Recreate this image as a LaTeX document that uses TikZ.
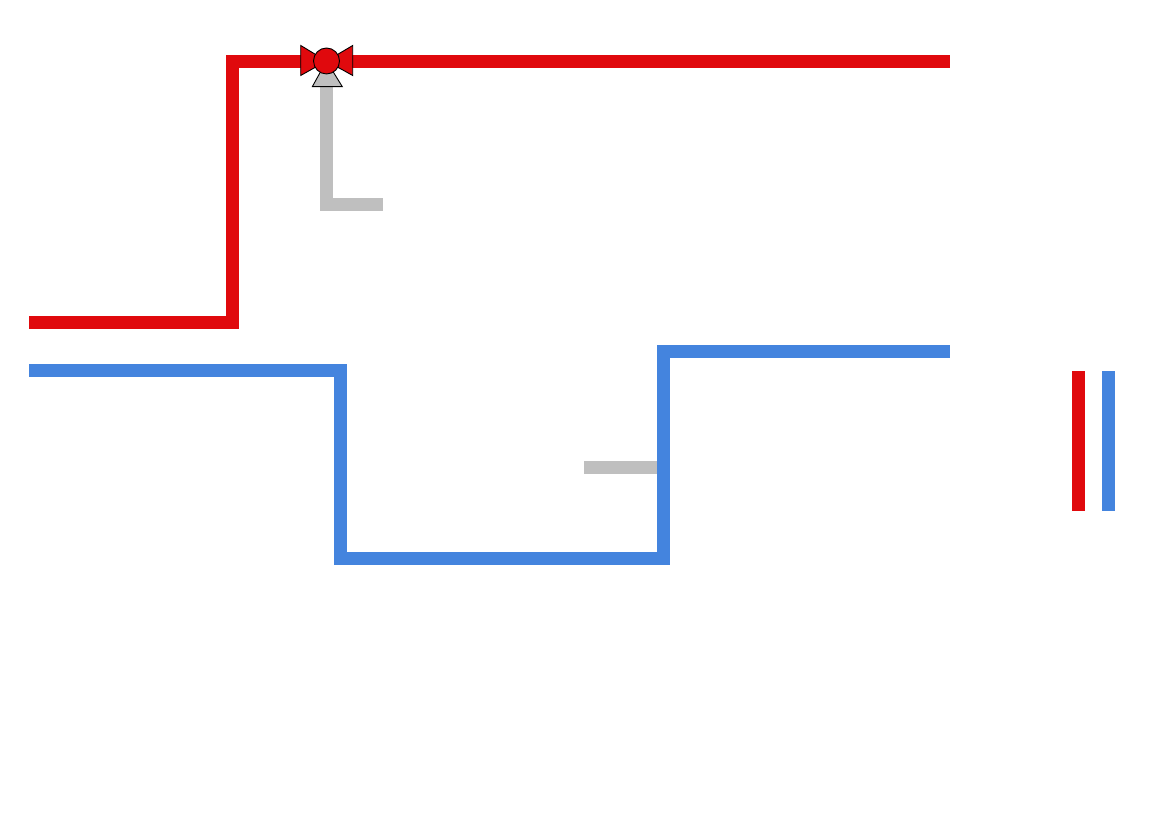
\documentclass[tikz,border=0pt]{standalone}
\definecolor{hotred}{HTML}{E0090D}
\definecolor{coldblue}{HTML}{4484DE}
\definecolor{stemgray}{HTML}{BFBFBF}
\tikzset{
  hotpipe/.style={draw=hotred,line width=13*0.02cm,miter limit=10},
  coldpipe/.style={draw=coldblue,line width=13*0.02cm,miter limit=10},
  stempipe/.style={draw=stemgray,line width=13*0.02cm},
  valvepart/.style={draw=black,line width=0.9*0.02cm,line join=miter}
}
\begin{document}
\begin{tikzpicture}[x=0.02cm,y=-0.02cm]
\useasboundingbox (0,0) rectangle (1170,813);
\fill [white] (0,0) rectangle (1170,813);
% pipes
\draw [hotpipe] (29,322.5) -- (232,322.5) -- (232,61.5) -- (950,61.5);
\draw [coldpipe] (29,370.5) -- (340,370.5) -- (340,558.5) -- (663,558.5) -- (663,351.5) -- (950,351.5);
\draw [stempipe] (326.5,87) -- (326.5,205) -- (383,205);
\draw [stempipe] (584,467.5) -- (657,467.5);
% legend
\draw [hotpipe] (1078,371.5) -- (1078,511);
\draw [coldpipe] (1108.5,371.5) -- (1108.5,511);
% valve
\draw [valvepart,fill=stemgray] (326.5,61) -- (342.3,86.7) -- (312.3,86.7) -- cycle;
\draw [valvepart,fill=hotred] (300.7,45.5) -- (326.5,61) -- (300.7,75.5) -- cycle;
\draw [valvepart,fill=hotred] (352.7,45.5) -- (326.5,61) -- (352.7,75.5) -- cycle;
\draw [valvepart,fill=hotred] (326.5,61) circle (13);
\end{tikzpicture}
\end{document}
